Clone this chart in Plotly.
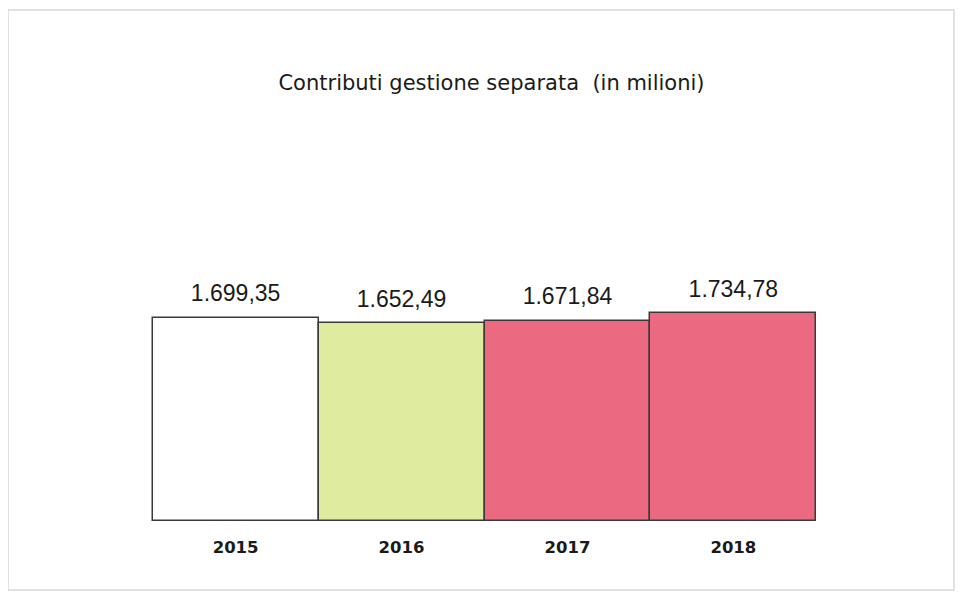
import plotly.graph_objects as go

years = ["2015", "2016", "2017", "2018"]
values = [1699.35, 1652.49, 1671.84, 1734.78]
colors = ["#ffffff", "#dfeb9f", "#eb6981", "#eb6981"]
title_text = "Contributi gestione separata  (in milioni)"

# the page body adds an 8px offset, so the figure is laid out 8px smaller
OFF = 8
W, H = 964 - OFF, 598 - OFF
L, R, T, B = 143, 146, 123, 77

fig = go.Figure()
fig.add_trace(go.Bar(
    x=years, y=values,
    marker=dict(color=colors, line=dict(color="#3a3a3a", width=1.5)),
    cliponaxis=False,
    hoverinfo="skip",
))
fig.add_trace(go.Scatter(
    x=years, y=values,
    mode="markers+text",
    marker=dict(size=16, color="rgba(0,0,0,0)"),
    texttemplate="%{y:,.2f}", textposition="top center",
    textfont=dict(family="Liberation Sans, Arial", size=23, color="#1a1a1a"),
    cliponaxis=False,
    hoverinfo="skip",
))

fig.update_layout(
    width=W, height=H,
    margin=dict(l=L, r=R, t=T, b=B),
    separators=",.",
    paper_bgcolor="white", plot_bgcolor="white",
    bargap=0,
    showlegend=False,
    title=dict(text=title_text, x=(491.5 - OFF) / W, xanchor="center", y=1 - (83 - OFF) / H, yanchor="middle",
               font=dict(family="DejaVu Sans, Verdana", size=21, color="#1a1a1a")),
    xaxis=dict(type="category", range=[-0.51, 3.51], showgrid=False, zeroline=False, showline=False,
               ticks="outside", ticklen=11, tickcolor="rgba(0,0,0,0)",
               tickfont=dict(family="DejaVu Sans, Verdana", size=16.5, color="#1a1a1a", weight="bold")),
    yaxis=dict(range=[0, 3260], visible=False, showgrid=False),
)

pw, ph = W - L - R, H - T - B
fig.add_shape(type="rect", xref="paper", yref="paper",
              x0=(0 - L) / pw, x1=(954 - OFF - L) / pw,
              y0=(H - B - (590 - OFF)) / ph, y1=(H - B - (10 - OFF)) / ph,
              line=dict(color="#e4e0e2", width=2), fillcolor="rgba(0,0,0,0)", layer="below")

fig.write_html("out.html")
